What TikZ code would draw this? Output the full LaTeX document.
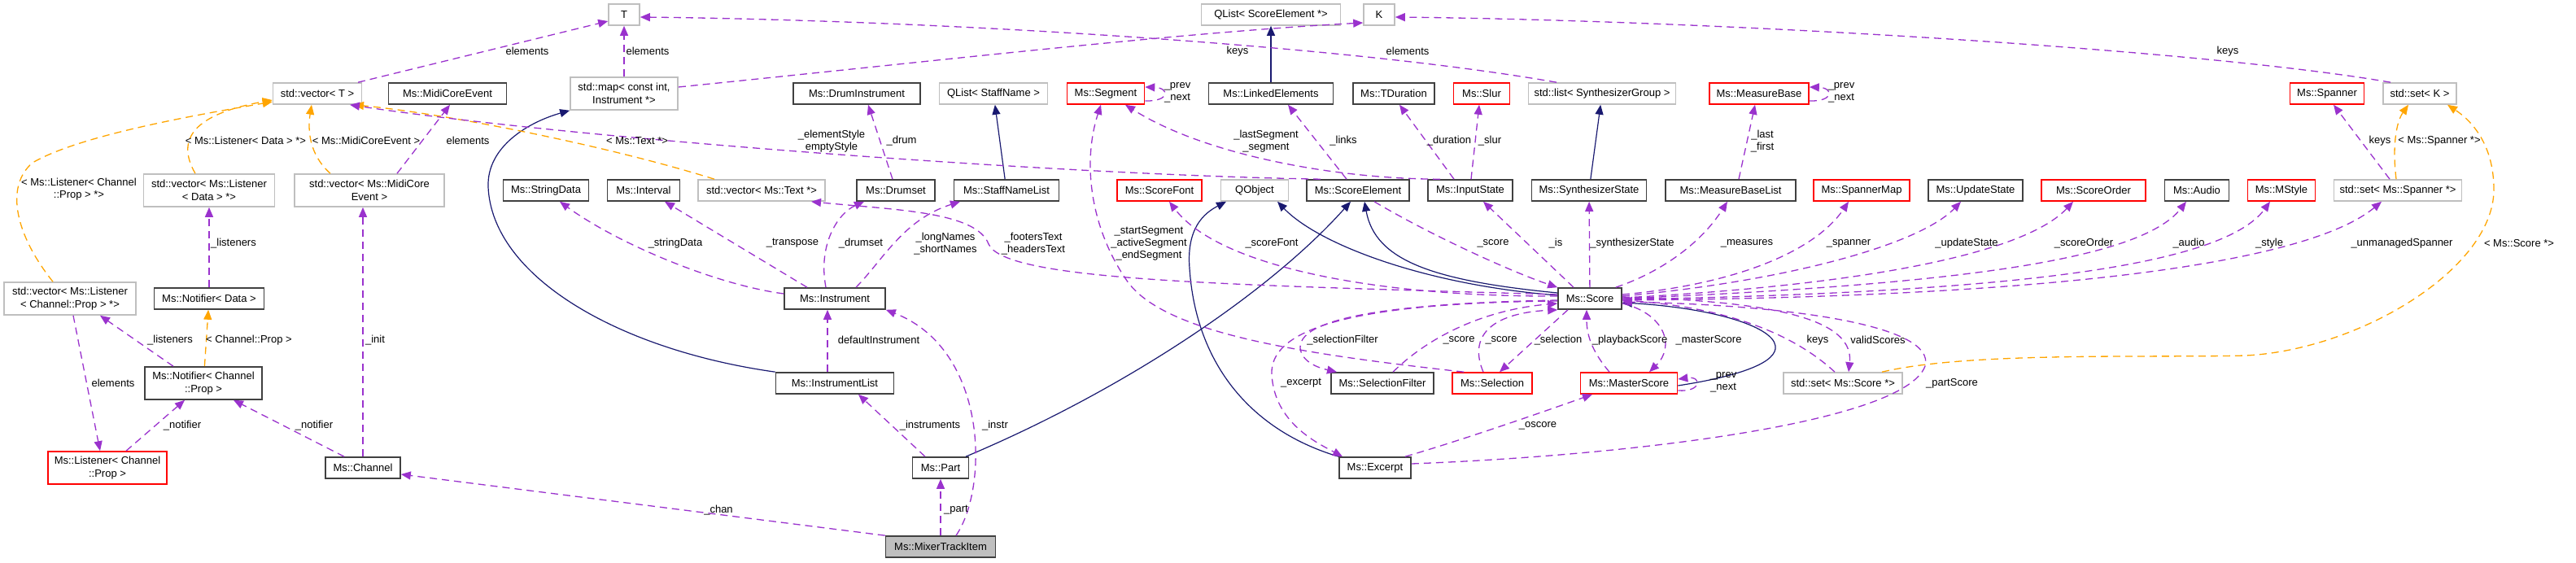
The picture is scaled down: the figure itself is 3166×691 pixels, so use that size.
\documentclass[tikz,border=0pt]{standalone}
\usepackage{fontspec}
\setmainfont{Liberation Sans}
\usepackage{tikz}
\usetikzlibrary{arrows.meta, positioning}
\definecolor{myviolet}{RGB}{154,50,205}
\definecolor{myorange}{RGB}{255,165,0}
\definecolor{mynavy}{RGB}{25,25,112}
\definecolor{mygrey}{RGB}{191,191,191}
\definecolor{mydark}{RGB}{64,64,64}
\definecolor{myred}{RGB}{255,0,0}
\tikzset{
  classbox/.style={rectangle, draw=mydark, fill=white, line width=1.6pt,
    minimum height=26pt, inner sep=2pt, align=center,
    font=\fontsize{13}{15.5}\selectfont},
  tplbox/.style={classbox, draw=mygrey},
  redbox/.style={classbox, draw=myred},
  focusbox/.style={classbox, fill=mygrey},
  twoline/.style={minimum height=40pt},
  lbl/.style={font=\fontsize{13}{15}\selectfont, inner sep=0pt, align=center},
  uses/.style={-{Triangle[length=12pt,width=10pt]}, draw=myviolet,
    line width=1.3pt, dash pattern=on 9pt off 6pt},
  tmpl/.style={-{Triangle[length=12pt,width=10pt]}, draw=myorange,
    line width=1.3pt, dash pattern=on 9pt off 6pt},
  inherit/.style={-{Triangle[length=12pt,width=10pt]}, draw=mynavy,
    line width=1.2pt}
}

\begin{document}
\begin{tikzpicture}[x=1pt, y=-1pt]
  \useasboundingbox (0,0) rectangle (3166,691);

  % Top row
  \node[tplbox, minimum width=38pt] (T) at (767,18) {T};
  \node[tplbox, minimum width=171pt] (qlistSE) at (1562,18) {QList< ScoreElement *>};
  \node[tplbox, minimum width=38pt] (K) at (1695,18) {K};

  % Second row
  \node[tplbox, minimum width=109pt] (vecT) at (390,115) {std::vector< T >};
  \node[classbox, minimum width=145pt] (midiEv) at (550,115) {Ms::MidiCoreEvent};
  \node[tplbox, twoline, minimum width=132pt] (map) at (767,115) {std::map< const int,\\Instrument *>};
  \node[classbox, minimum width=156pt] (drumInst) at (1053,115) {Ms::DrumInstrument};
  \node[tplbox, minimum width=133pt] (qlistStaff) at (1221,115) {QList< StaffName >};
  \node[redbox, minimum width=95pt] (segment) at (1359,115) {Ms::Segment};
  \node[classbox, minimum width=153pt] (linked) at (1562,115) {Ms::LinkedElements};
  \node[classbox, minimum width=100pt] (tdur) at (1713,115) {Ms::TDuration};
  \node[redbox, minimum width=69pt] (slur) at (1821,115) {Ms::Slur};
  \node[tplbox, minimum width=181pt] (synthGrp) at (1969,115) {std::list< SynthesizerGroup >};
  \node[redbox, minimum width=122pt] (measBase) at (2162,115) {Ms::MeasureBase};
  \node[redbox, minimum width=91pt] (spanner) at (2860,115) {Ms::Spanner};
  \node[tplbox, minimum width=90pt] (setK) at (2974,115) {std::set< K >};

  % Third row
  \node[tplbox, twoline, minimum width=161pt] (vecLisData) at (257,234) {std::vector< Ms::Listener\\< Data > *>};
  \node[tplbox, twoline, minimum width=184pt] (vecMidi) at (454,234) {std::vector< Ms::MidiCore\\Event >};
  \node[classbox, minimum width=105pt] (strData) at (671,234) {Ms::StringData};
  \node[classbox, minimum width=89pt] (interval) at (791,234) {Ms::Interval};
  \node[tplbox, minimum width=156pt] (vecText) at (936,234) {std::vector< Ms::Text *>};
  \node[classbox, minimum width=96pt] (drumset) at (1101,234) {Ms::Drumset};
  \node[classbox, minimum width=129pt] (staffNames) at (1237,234) {Ms::StaffNameList};
  \node[redbox, minimum width=104pt] (scoreFont) at (1425,234) {Ms::ScoreFont};
  \node[tplbox, minimum width=83pt] (qobject) at (1542,234) {QObject};
  \node[classbox, minimum width=126pt] (scoreEl) at (1669,234) {Ms::ScoreElement};
  \node[classbox, minimum width=104pt] (inputState) at (1807,234) {Ms::InputState};
  \node[classbox, minimum width=141pt] (synthState) at (1953,234) {Ms::SynthesizerState};
  \node[classbox, minimum width=160pt] (measList) at (2127,234) {Ms::MeasureBaseList};
  \node[redbox, minimum width=118pt] (spMap) at (2288,234) {Ms::SpannerMap};
  \node[classbox, minimum width=116pt] (updState) at (2428,234) {Ms::UpdateState};
  \node[redbox, minimum width=128pt] (scoreOrder) at (2573,234) {Ms::ScoreOrder};
  \node[classbox, minimum width=79pt] (audio) at (2700,234) {Ms::Audio};
  \node[redbox, minimum width=83pt] (mstyle) at (2804,234) {Ms::MStyle};
  \node[tplbox, minimum width=157pt] (setSpanner) at (2947,234) {std::set< Ms::Spanner *>};

  % Fourth row
  \node[tplbox, twoline, minimum width=162pt] (vecLisChan) at (86,367) {std::vector< Ms::Listener\\< Channel::Prop > *>};
  \node[classbox, minimum width=135pt] (notData) at (257,367) {Ms::Notifier< Data >};
  \node[classbox, minimum width=124pt] (instrument) at (1026,367) {Ms::Instrument};
  \node[classbox, minimum width=78pt] (score) at (1954,367) {Ms::Score};

  % Fifth row
  \node[classbox, twoline, minimum width=144pt] (notChan) at (250,471) {Ms::Notifier< Channel\\::Prop >};
  \node[classbox, minimum width=145pt] (instList) at (1026,471) {Ms::InstrumentList};
  \node[classbox, minimum width=126pt] (selFilter) at (1699,471) {Ms::SelectionFilter};
  \node[redbox, minimum width=98pt] (selection) at (1834,471) {Ms::Selection};
  \node[redbox, minimum width=119pt] (master) at (2002,471) {Ms::MasterScore};
  \node[tplbox, minimum width=146pt] (setScore) at (2265,471) {std::set< Ms::Score *>};

  % Bottom rows
  \node[redbox, twoline, minimum width=146pt] (listener) at (132,575) {Ms::Listener< Channel\\::Prop >};
  \node[classbox, minimum width=92pt] (channel) at (446,575) {Ms::Channel};
  \node[classbox, minimum width=69pt] (part) at (1156,575) {Ms::Part};
  \node[classbox, minimum width=88pt] (excerpt) at (1690,575) {Ms::Excerpt};
  \node[focusbox, minimum width=135pt] (mixer) at (1156,672) {Ms::MixerTrackItem};

  % Inheritance
  \draw[inherit] (linked) -- (qlistSE);
  \draw[inherit] (staffNames) -- (qlistStaff);
  \draw[inherit] (synthState) -- (synthGrp);
  \draw[inherit] (instList.north west) .. controls (760,430) and (605,340) .. (600,230)
    .. controls (598,180) and (650,150) .. (map.south west);
  \draw[inherit] ([xshift=31pt]part.north) .. controls (1380,480) and (1560,360) .. ([xshift=-9pt]scoreEl.south);
  \draw[inherit] ([yshift=7pt]score.west) .. controls (1760,345) and (1690,320) .. ([xshift=8pt]scoreEl.south);
  \draw[inherit] ([yshift=4pt]score.west) .. controls (1750,350) and (1620,300) .. ([xshift=28pt]qobject.south);
  \draw[inherit] (excerpt.north west) .. controls (1540,530) and (1470,450) .. (1462,330)
    .. controls (1458,280) and (1480,262) .. ([xshift=-35pt]qobject.south);
  \draw[inherit] ([yshift=-3pt]master.east) .. controls (2140,462) and (2185,445) .. (2182,425)
    .. controls (2178,400) and (2100,378) .. ([yshift=-5pt]score.east);

  % Template instances
  \draw[tmpl] ([xshift=-21pt]vecLisChan.north) .. controls (20,290) and (5,230) .. (40,200)
    .. controls (100,165) and (250,140) .. ([yshift=-10pt]vecT.west);
  \draw[tmpl] ([xshift=-17pt]vecLisData.north) .. controls (215,170) and (240,140) .. ([yshift=-8pt]vecT.west);
  \draw[tmpl] ([xshift=-48pt]vecMidi.north) .. controls (380,190) and (378,160) .. ([xshift=-7pt]vecT.south);
  \draw[tmpl] ([xshift=-58pt]vecText.north) .. controls (750,180) and (550,140) .. ([xshift=45pt]vecT.south);
  \draw[tmpl] (notChan) -- (notData);
  \draw[tmpl] ([xshift=-2pt]setSpanner.north) .. controls (2940,180) and (2945,150) .. ([xshift=-14pt]setK.south);
  \draw[tmpl] ([xshift=48pt]setScore.north) .. controls (2420,432) and (2640,440) .. (2760,437)
    .. controls (2900,430) and (3065,330) .. (3065,233)
    .. controls (3065,180) and (3040,150) .. ([xshift=34pt]setK.south);

  % Members, left part
  \draw[uses] ([xshift=50pt]vecT.north) -- ([yshift=-8pt]T.west);
  \draw[uses] (map) -- (T);
  \draw[uses] ([xshift=-56pt]synthGrp.north) .. controls (1650,55) and (1150,25) .. ([yshift=-3pt]T.east);
  \draw[uses] ([yshift=8pt]map.east) .. controls (1150,75) and (1450,40) .. ([yshift=-10pt]K.west);
  \draw[uses] ([xshift=-36pt]setK.north) .. controls (2700,60) and (2100,25) .. ([yshift=-3pt]K.east);
  \draw[uses] ([xshift=34pt]vecMidi.north) -- ([xshift=3pt]midiEv.south);
  \draw[uses] (notData) -- (vecLisData);
  \draw[uses] ([xshift=-37pt]notChan.north) -- ([xshift=37pt]vecLisChan.south);
  \draw[uses] ([xshift=4pt]vecLisChan.south) -- ([xshift=-9pt]listener.north);
  \draw[uses] ([xshift=23pt]listener.north) -- ([xshift=-23pt]notChan.south);
  \draw[uses] ([xshift=-23pt]channel.north) -- ([xshift=37pt]notChan.south);
  \draw[uses] (channel.north) -- (channel.north |- vecMidi.south);
  \draw[uses] (mixer.north west) -- ([yshift=-8pt]channel.east);
  \draw[uses] (mixer) -- (part);
  \draw[uses] ([xshift=19pt]mixer.north) .. controls (1215,600) and (1215,430) .. (instrument.south east);
  \draw[uses] ([xshift=-19pt]part.north) -- ([xshift=29pt]instList.south);
  \draw[uses] ([xshift=-9pt]instList.north) -- ([xshift=-9pt]instrument.south);
  \draw[uses] ([yshift=6pt]instrument.west) .. controls (880,350) and (760,300) .. ([xshift=17pt]strData.south);
  \draw[uses] ([xshift=-34pt]instrument.north) -- ([xshift=26pt]interval.south);
  \draw[uses] ([xshift=-11pt]instrument.north) .. controls (1005,300) and (1030,262) .. ([xshift=-39pt]drumset.south);
  \draw[uses] ([xshift=26pt]instrument.north) .. controls (1085,320) and (1110,270) .. ([xshift=-57pt]staffNames.south);
  \draw[uses] ([xshift=-4pt]drumset.north) -- ([xshift=14pt]drumInst.south);

  % Members, middle part
  \draw[uses] ([yshift=5pt]score.west) .. controls (1500,350) and (1235,345) .. (1215,300)
    .. controls (1200,260) and (1100,258) .. ([xshift=61pt]vecText.south);
  \draw[uses] ([xshift=-46pt]scoreEl.north) .. controls (1300,215) and (700,170) .. ([xshift=40pt]vecT.south);
  \draw[uses] ([xshift=-14pt]scoreEl.north) -- ([xshift=21pt]linked.south);
  \draw[uses] ([xshift=-37pt]inputState.north) .. controls (1640,220) and (1480,190) .. ([xshift=24pt]segment.south);
  \draw[uses] ([xshift=-20pt]inputState.north) -- ([xshift=7pt]tdur.south);
  \draw[uses] ([xshift=1pt]inputState.north) -- ([xshift=-3pt]slur.south);
  \draw[uses] ([yshift=-9pt]segment.east) .. controls (1438,125) and (1438,108) .. ([yshift=8pt]segment.east);
  \draw[uses] ([yshift=-9pt]measBase.east) .. controls (2254,125) and (2254,108) .. ([yshift=8pt]measBase.east);
  \draw[uses] ([xshift=10pt]measList.north) -- ([xshift=-5pt]measBase.south);
  \draw[uses] ([xshift=15pt]selection.north west) .. controls (1600,435) and (1430,410) .. (1385,345)
    .. controls (1340,280) and (1330,200) .. ([xshift=-6pt]segment.south);
  \draw[uses] ([yshift=3pt]score.west) .. controls (1700,365) and (1500,330) .. ([xshift=12pt]scoreFont.south);
  \draw[uses] ([xshift=20pt]scoreEl.south) .. controls (1760,290) and (1860,335) .. (score.north west);
  \draw[uses] ([xshift=-20pt]score.north) -- ([xshift=16pt]inputState.south);
  \draw[uses] (score) -- (synthState);

  % Members of the score
  \draw[uses] ([xshift=-8pt]score.north east) .. controls (2040,335) and (2090,300) .. ([xshift=-4pt]measList.south);
  \draw[uses] ([yshift=5pt]score.east) .. controls (2130,350) and (2230,310) .. ([xshift=-16pt]spMap.south);
  \draw[uses] ([yshift=3pt]score.east) .. controls (2200,345) and (2360,300) .. ([xshift=-18pt]updState.south);
  \draw[uses] ([yshift=1pt]score.east) .. controls (2300,350) and (2490,310) .. ([xshift=-25pt]scoreOrder.south);
  \draw[uses] (score.east) .. controls (2400,350) and (2630,320) .. ([xshift=-13pt]audio.south);
  \draw[uses] ([yshift=-1pt]score.east) .. controls (2450,360) and (2730,330) .. ([xshift=-14pt]mstyle.south);
  \draw[uses] ([yshift=-2pt]score.east) .. controls (2550,365) and (2840,320) .. ([xshift=-20pt]setSpanner.south);
  \draw[uses] ([xshift=-10pt]setSpanner.north) -- ([xshift=8pt]spanner.south);
  \draw[uses] ([yshift=-2pt]score.west) .. controls (1750,372) and (1595,385) .. (1598,428)
    .. controls (1600,445) and (1620,452) .. ([xshift=-56pt]selFilter.north);
  \draw[uses] ([xshift=13pt]selFilter.north) .. controls (1760,410) and (1830,380) .. ([yshift=-6pt]score.west);
  \draw[uses] ([xshift=-11pt]selection.north) .. controls (1805,415) and (1830,385) .. (score.south west);
  \draw[uses] ([xshift=-27pt]score.south) -- ([xshift=9pt]selection.north);
  \draw[uses] ([xshift=-24pt]master.north) .. controls (1955,430) and (1950,410) .. ([xshift=-4pt]score.south);
  \draw[uses] ([yshift=-6pt]score.east) .. controls (2045,385) and (2060,425) .. ([xshift=25pt]master.north);
  \draw[uses] ([xshift=-10pt]setScore.north) .. controls (2220,425) and (2150,380) .. ([yshift=-2pt]score.east);
  \draw[uses] ([yshift=2pt]score.east) .. controls (2150,370) and (2280,385) .. ([xshift=7pt]setScore.north);
  \draw[uses] ([yshift=-3pt]score.west) .. controls (1700,372) and (1560,395) .. (1563,460)
    .. controls (1566,520) and (1620,545) .. ([xshift=-40pt]excerpt.north);
  \draw[uses] ([yshift=5pt]excerpt.east) .. controls (2000,560) and (2340,520) .. (2366,450)
    .. controls (2380,400) and (2200,375) .. ([yshift=-4pt]score.east);
  \draw[uses] ([xshift=37pt]excerpt.north) .. controls (1800,540) and (1900,505) .. ([xshift=-45pt]master.south);
  \draw[uses] ([yshift=-9pt]master.east) .. controls (2092,482) and (2092,462) .. ([yshift=5pt]master.east);

  % Labels
  \node[lbl] (lbVecT) at (648,63) {elements};
  \node[lbl] (lbMap) at (796,63) {elements};
  \node[lbl] (lbGrp) at (1730,63) {elements};
  \node[lbl] (lbMapK) at (1521,63) {keys};
  \node[lbl] (lbSetK) at (2738,63) {keys};
  \node[lbl] (lbLisData) at (302,173) {< Ms::Listener< Data > *>};
  \node[lbl] (lbMidiT) at (450,173) {< Ms::MidiCoreEvent >};
  \node[lbl] (lbMidiEl) at (575,173) {elements};
  \node[lbl] (lbText) at (783,173) {< Ms::Text *>};
  \node[lbl] (lbStyle) at (1022,174) {\_elementStyle\\emptyStyle};
  \node[lbl] (lbDrum) at (1108,173) {\_drum};
  \node[lbl] (lbSeg) at (1556,174) {\_lastSegment\\\_segment};
  \node[lbl] (lbLinks) at (1651,173) {\_links};
  \node[lbl] (lbDur) at (1781,173) {\_duration};
  \node[lbl] (lbSlur) at (1831,173) {\_slur};
  \node[lbl] (lbFirst) at (2166,174) {\_last\\\_first};
  \node[lbl] (lbSpKeys) at (2925,173) {keys};
  \node[lbl] (lbSpT) at (2998,173) {< Ms::Spanner *>};
  \node[lbl] (lbSegLoop) at (1447,114) {\_prev\\\_next};
  \node[lbl] (lbMbLoop) at (2263,114) {\_prev\\\_next};
  \node[lbl] (lbLisChan) at (97,233) {< Ms::Listener< Channel\\::Prop > *>};
  \node[lbl] (lbListen1) at (287,299) {\_listeners};
  \node[lbl] (lbStrData) at (830,299) {\_stringData};
  \node[lbl] (lbTransp) at (974,299) {\_transpose};
  \node[lbl] (lbDrumset) at (1058,299) {\_drumset};
  \node[lbl] (lbNames) at (1162,300) {\_longNames\\\_shortNames};
  \node[lbl] (lbFooter) at (1270,300) {\_footersText\\\_headersText};
  \node[lbl] (lbSelSeg) at (1412,299) {\_startSegment\\\_activeSegment\\\_endSegment};
  \node[lbl] (lbFont) at (1563,299) {\_scoreFont};
  \node[lbl] (lbScore1) at (1835,299) {\_score};
  \node[lbl] (lbIs) at (1912,299) {\_is};
  \node[lbl] (lbSynth) at (2006,299) {\_synthesizerState};
  \node[lbl] (lbMeas) at (2147,299) {\_measures};
  \node[lbl] (lbSpan) at (2272,299) {\_spanner};
  \node[lbl] (lbUpd) at (2417,299) {\_updateState};
  \node[lbl] (lbOrder) at (2561,299) {\_scoreOrder};
  \node[lbl] (lbAudio) at (2690,299) {\_audio};
  \node[lbl] (lbStyle2) at (2789,299) {\_style};
  \node[lbl] (lbUnman) at (2952,299) {\_unmanagedSpanner};
  \node[lbl] (lbScoreT) at (3096,299) {< Ms::Score *>};
  \node[lbl] (lbListen2) at (209,418) {\_listeners};
  \node[lbl] (lbPropT) at (306,418) {< Channel::Prop >};
  \node[lbl] (lbInit) at (461,418) {\_init};
  \node[lbl] (lbDefault) at (1080,418) {defaultInstrument};
  \node[lbl] (lbSelFil) at (1650,418) {\_selectionFilter};
  \node[lbl] (lbScore2) at (1793,418) {\_score};
  \node[lbl] (lbScore3) at (1845,418) {\_score};
  \node[lbl] (lbSel) at (1915,418) {\_selection};
  \node[lbl] (lbPlay) at (2003,418) {\_playbackScore};
  \node[lbl] (lbMaster) at (2100,418) {\_masterScore};
  \node[lbl] (lbKeys) at (2234,418) {keys};
  \node[lbl] (lbValid) at (2308,418) {validScores};
  \node[lbl] (lbElems) at (139,471) {elements};
  \node[lbl] (lbExcerpt) at (1599,471) {\_excerpt};
  \node[lbl] (lbMsLoop) at (2118,470) {\_prev\\\_next};
  \node[lbl] (lbPartSc) at (2399,471) {\_partScore};
  \node[lbl] (lbNotif1) at (224,523) {\_notifier};
  \node[lbl] (lbNotif2) at (386,523) {\_notifier};
  \node[lbl] (lbInstrs) at (1143,523) {\_instruments};
  \node[lbl] (lbInstr) at (1223,523) {\_instr};
  \node[lbl] (lbOscore) at (1890,523) {\_oscore};
  \node[lbl] (lbChan) at (883,627) {\_chan};
  \node[lbl] (lbPart) at (1175,627) {\_part};
\end{tikzpicture}
\end{document}
